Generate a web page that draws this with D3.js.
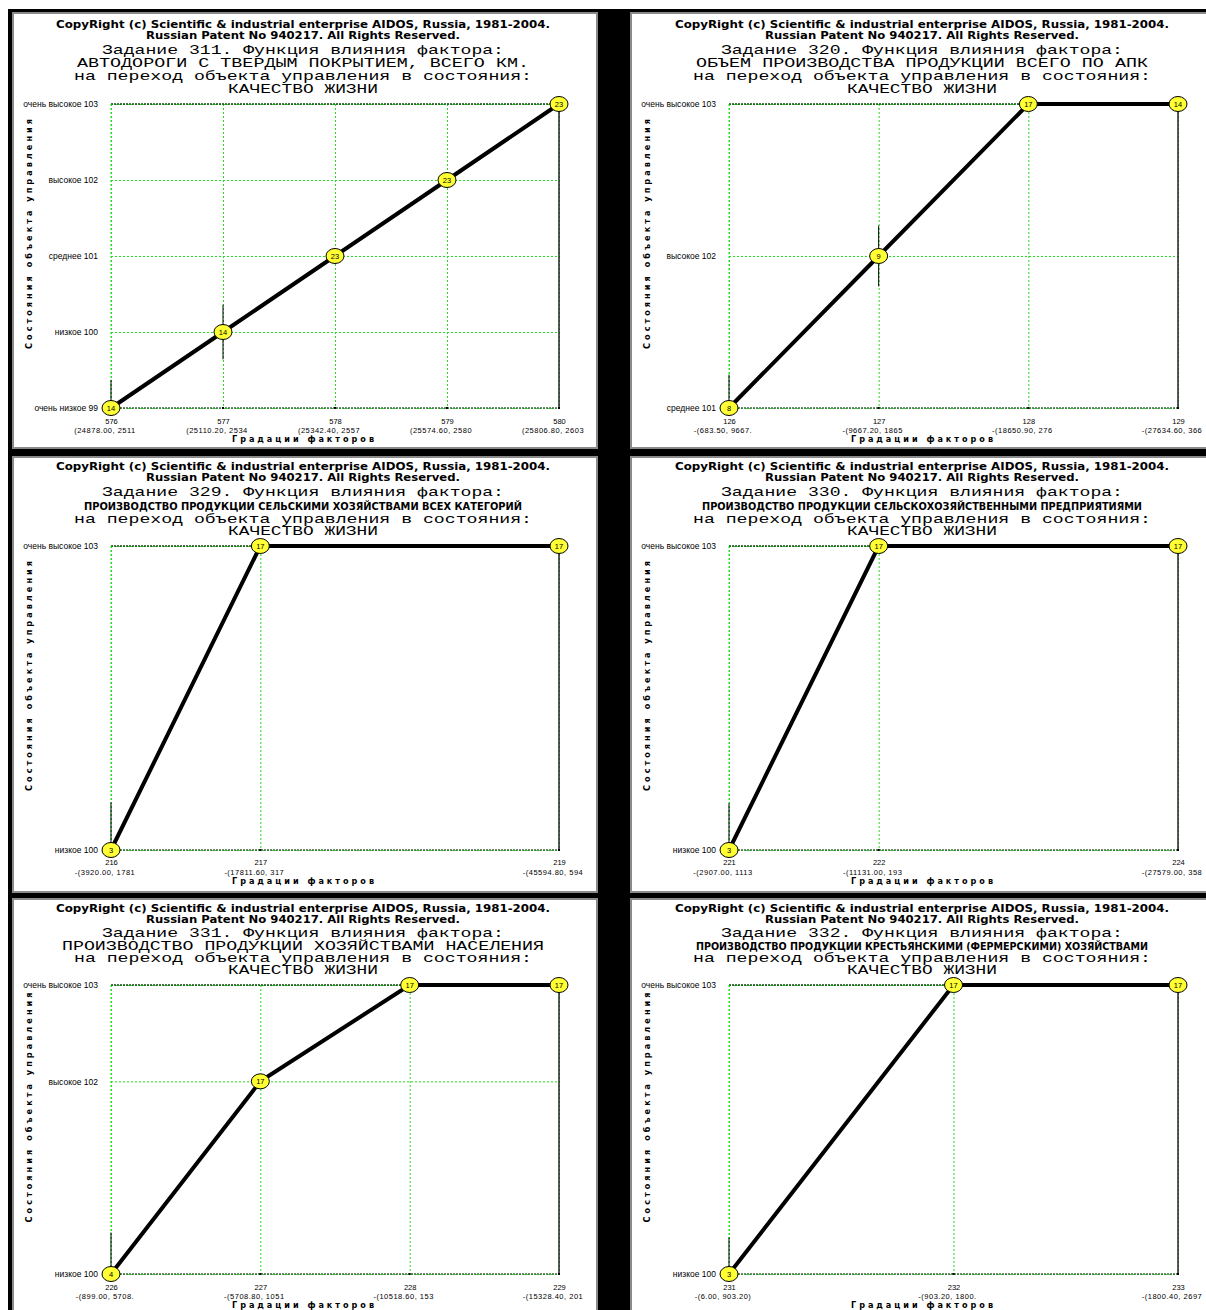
<!DOCTYPE html>
<html><head><meta charset="utf-8">
<script src="https://cdn.jsdelivr.net/npm/d3@7"></script>
<style>body{margin:0;background:#fff}svg{display:block}</style>
</head><body>
<script>
// ---------- DATA ----------
const taskNumbers = [311, 320, 329, 330, 331, 332];
const factorNames = [
  "АВТОДОРОГИ С ТВЕРДЫМ ПОКРЫТИЕМ, ВСЕГО КМ.",
  "ОБЪЕМ ПРОИЗВОДСТВА ПРОДУКЦИИ ВСЕГО ПО АПК",
  "ПРОИЗВОДСТВО ПРОДУКЦИИ СЕЛЬСКИМИ ХОЗЯЙСТВАМИ ВСЕХ КАТЕГОРИЙ",
  "ПРОИЗВОДСТВО ПРОДУКЦИИ СЕЛЬСКОХОЗЯЙСТВЕННЫМИ ПРЕДПРИЯТИЯМИ",
  "ПРОИЗВОДСТВО ПРОДУКЦИИ ХОЗЯЙСТВАМИ НАСЕЛЕНИЯ",
  "ПРОИЗВОДСТВО ПРОДУКЦИИ КРЕСТЬЯНСКИМИ (ФЕРМЕРСКИМИ) ХОЗЯЙСТВАМИ"
];
const stateName = "КАЧЕСТВО ЖИЗНИ";

const p1Cats = [576, 577, 578, 579, 580];
const p1Vals = [99, 100, 101, 102, 103];
const p1Counts = [14, 14, 23, 23, 23];
const p1Errs = [0.37, 0.36, 0, 0, 0];
const p1Ranges = ["(24878.00, 2511", "(25110.20, 2534", "(25342.40, 2557", "(25574.60, 2580", "(25806.80, 2603"];
const p1Levels = [99, 100, 101, 102, 103];
const p1LevelNames = ["очень низкое 99", "низкое 100", "среднее 101", "высокое 102", "очень высокое 103"];

const p2Cats = [126, 127, 128, 129];
const p2Vals = [101, 102, 103, 103];
const p2Counts = [8, 9, 17, 14];
const p2Errs = [0.22, 0.2, 0, 0];
const p2Ranges = ["-(683.50, 9667.", "-(9667.20, 1865", "-(18650.90, 276", "-(27634.60, 366"];
const p2Levels = [101, 102, 103];
const p2LevelNames = ["среднее 101", "высокое 102", "очень высокое 103"];

const p3Cats = [216, 217, 219];
const p3Vals = [100, 103, 103];
const p3Counts = [3, 17, 17];
const p3Errs = [0.47, 0, 0];
const p3Ranges = ["-(3920.00, 1781", "-(17811.60, 317", "-(45594.80, 594"];
const p3Levels = [100, 103];
const p3LevelNames = ["низкое 100", "очень высокое 103"];

const p4Cats = [221, 222, 224];
const p4Vals = [100, 103, 103];
const p4Counts = [3, 17, 17];
const p4Errs = [0.46, 0, 0];
const p4Ranges = ["-(2907.00, 1113", "-(11131.00, 193", "-(27579.00, 358"];
const p4Levels = [100, 103];
const p4LevelNames = ["низкое 100", "очень высокое 103"];

const p5Cats = [226, 227, 228, 229];
const p5Vals = [100, 102, 103, 103];
const p5Counts = [4, 17, 17, 17];
const p5Errs = [0.43, 0, 0, 0];
const p5Ranges = ["-(899.00, 5708.", "-(5708.80, 1051", "-(10518.60, 153", "-(15328.40, 201"];
const p5Levels = [100, 102, 103];
const p5LevelNames = ["низкое 100", "высокое 102", "очень высокое 103"];

const p6Cats = [231, 232, 233];
const p6Vals = [100, 103, 103];
const p6Counts = [3, 17, 17];
const p6Errs = [0.38, 0, 0];
const p6Ranges = ["-(6.00, 903.20)", "-(903.20, 1800.", "-(1800.40, 2697"];
const p6Levels = [100, 103];
const p6LevelNames = ["низкое 100", "очень высокое 103"];

const panels = [
  {cats: p1Cats, vals: p1Vals, counts: p1Counts, errs: p1Errs, ranges: p1Ranges, levels: p1Levels, names: p1LevelNames},
  {cats: p2Cats, vals: p2Vals, counts: p2Counts, errs: p2Errs, ranges: p2Ranges, levels: p2Levels, names: p2LevelNames},
  {cats: p3Cats, vals: p3Vals, counts: p3Counts, errs: p3Errs, ranges: p3Ranges, levels: p3Levels, names: p3LevelNames},
  {cats: p4Cats, vals: p4Vals, counts: p4Counts, errs: p4Errs, ranges: p4Ranges, levels: p4Levels, names: p4LevelNames},
  {cats: p5Cats, vals: p5Vals, counts: p5Counts, errs: p5Errs, ranges: p5Ranges, levels: p5Levels, names: p5LevelNames},
  {cats: p6Cats, vals: p6Vals, counts: p6Counts, errs: p6Errs, ranges: p6Ranges, levels: p6Levels, names: p6LevelNames}
];

// ---------- LAYOUT ----------
const W = 1206, H = 1310;
const colPanelLeft = [13, 631];
const panelW = 584;
const rowPanelTop = [13, 457, 899];
const rowPanelH = [435, 435, 430];
const rowPlotTop = [104, 546, 985];
const rowPlotBottom = [408, 850, 1274];
const rowTitleY = [[24, 35, 50, 63, 76, 89], [466, 477, 492, 506, 519, 531], [908, 919, 933, 946, 958, 970]];
const rowBottomOff = [[13, 22, 31], [12, 22, 31], [13, 22, 31]];
const factorWidths = [452, 452, 438, 440, 482, 452];
const factorCondensed = [false, false, true, true, false, true];

const svg = d3.select("body").append("svg").attr("width", W).attr("height", H);
svg.append("rect").attr("x", 8).attr("y", 9).attr("width", W - 8).attr("height", H - 9).attr("fill", "#000");

const monoFont = "'Liberation Mono', 'DejaVu Sans Mono', monospace";
const condFont = "'DejaVu Sans Condensed', 'Liberation Sans Narrow', 'DejaVu Sans', sans-serif";
const smallFont = "'Liberation Sans', Arial, sans-serif";

panels.forEach((p, i) => {
  const c = i % 2, r = Math.floor(i / 2);
  const g = svg.append("g");
  const px = colPanelLeft[c], py = rowPanelTop[r];
  g.append("rect").attr("x", px).attr("y", py).attr("width", panelW).attr("height", rowPanelH[r])
    .attr("fill", "#fff").attr("stroke", "#8a8a8a").attr("stroke-width", 2);

  const cx = 303 + 619 * c;
  const ty = rowTitleY[r];
  const txt = (s, y, font, size, weight, len) => {
    const t = g.append("text").attr("x", cx).attr("y", y).attr("text-anchor", "middle")
      .attr("dominant-baseline", "central").attr("font-family", font).attr("font-size", size)
      .attr("font-weight", weight).attr("fill", "#000").text(s);
    if (len) t.attr("textLength", len).attr("lengthAdjust", "spacingAndGlyphs");
    return t;
  };
  txt("CopyRight (c) Scientific & industrial enterprise AIDOS, Russia, 1981-2004.", ty[0], condFont, 11, "bold", 494);
  txt("Russian Patent No 940217. All Rights Reserved.", ty[1], condFont, 11, "bold", 314);
  txt("Задание " + taskNumbers[i] + ". Функция влияния фактора:", ty[2], monoFont, 13, "normal", 402);
  if (factorCondensed[i]) txt(factorNames[i], ty[3], condFont, 10.5, "bold", factorWidths[i]);
  else txt(factorNames[i], ty[3], monoFont, 13, "normal", factorWidths[i]);
  txt("на переход объекта управления в состояния:", ty[4], monoFont, 13, "normal", 458);
  txt(stateName, ty[5], monoFont, 13, "normal", 150);

  const left = 111 + 618 * c, right = 559 + 619 * c;
  const top = rowPlotTop[r], bottom = rowPlotBottom[r];
  const x = d3.scaleLinear().domain([p.cats[0], p.cats[p.cats.length - 1]]).range([left, right]);
  const y = d3.scaleLinear().domain([p.levels[0], p.levels[p.levels.length - 1]]).range([bottom, top]);

  // grid lines via axes
  const gx = g.append("g").attr("transform", `translate(0,${top})`)
    .call(d3.axisBottom(x).tickValues(p.cats).tickSize(bottom - top).tickFormat(""));
  gx.select(".domain").remove();
  gx.selectAll(".tick line").attr("stroke", "#22dd22").attr("stroke-dasharray", "2,2");
  const gy = g.append("g").attr("transform", `translate(${left},0)`)
    .call(d3.axisRight(y).tickValues(p.levels).tickSize(right - left).tickFormat(""));
  gy.select(".domain").remove();
  gy.selectAll(".tick line").attr("stroke", "#22dd22").attr("stroke-dasharray", "2,2");

  // frame
  g.append("line").attr("x1", left).attr("x2", right).attr("y1", top).attr("y2", top)
    .attr("stroke", "#0a4a0a").attr("stroke-width", 1.5).attr("stroke-dasharray", "2,1");
  g.append("line").attr("x1", left).attr("x2", right).attr("y1", bottom).attr("y2", bottom)
    .attr("stroke", "#3a6a3a").attr("stroke-width", 1.5).attr("stroke-dasharray", "2,1");
  g.append("line").attr("x1", left).attr("x2", left).attr("y1", top).attr("y2", bottom)
    .attr("stroke", "#22dd22").attr("stroke-dasharray", "2,2");
  g.append("line").attr("x1", right).attr("x2", right).attr("y1", top).attr("y2", bottom)
    .attr("stroke", "#222").attr("stroke-width", 1.5);
  g.selectAll(".tm").data(p.cats).enter().append("rect")
    .attr("x", d => x(d) - 1).attr("y", bottom - 1).attr("width", 2).attr("height", 2).attr("fill", "#000");

  // y level labels
  const ay = g.append("g").attr("transform", `translate(${left},0)`)
    .call(d3.axisLeft(y).tickValues(p.levels).tickSize(0).tickPadding(13)
      .tickFormat(d => p.names[p.levels.indexOf(d)]));
  ay.select(".domain").remove();
  ay.selectAll("text").attr("font-family", smallFont).attr("font-size", 8.5).attr("fill", "#000");

  // x tick numbers + range labels
  const bo = rowBottomOff[r];
  const ax = g.append("g").attr("transform", `translate(0,${bottom})`)
    .call(d3.axisBottom(x).tickValues(p.cats).tickSize(0).tickPadding(0).tickFormat(d3.format("d")));
  ax.select(".domain").remove();
  ax.selectAll("text").attr("y", bo[0]).attr("dy", null).attr("dominant-baseline", "central")
    .attr("font-family", smallFont).attr("font-size", 7.5).attr("fill", "#000");
  g.selectAll(".rl").data(p.cats).enter().append("text")
    .attr("x", d => x(d) - 6).attr("y", bottom + bo[1]).attr("text-anchor", "middle")
    .attr("dominant-baseline", "central").attr("font-family", smallFont).attr("font-size", 7.5)
    .attr("letter-spacing", 0.5).attr("fill", "#000").text((d, k) => p.ranges[k]);

  // axis titles
  g.append("text").attr("x", cx).attr("y", bottom + bo[2]).attr("text-anchor", "middle")
    .attr("dominant-baseline", "central").attr("font-family", condFont).attr("font-size", 9)
    .attr("font-weight", "bold").attr("textLength", 142).attr("lengthAdjust", "spacing")
    .text("Градации факторов");
  const yc = (top + bottom) / 2 - 22, xc = 29 + 618 * c;
  g.append("text").attr("transform", `translate(${xc},${yc}) rotate(-90)`).attr("text-anchor", "middle")
    .attr("dominant-baseline", "central").attr("font-family", condFont).attr("font-size", 9)
    .attr("font-weight", "bold").attr("textLength", 230).attr("lengthAdjust", "spacing")
    .text("Состояния объекта управления");

  // data
  const pts = p.cats.map((d, k) => ({c: d, v: p.vals[k], n: p.counts[k], e: p.errs[k]}));
  const lo = p.levels[0], hi = p.levels[p.levels.length - 1];
  g.selectAll(".eb").data(pts.filter(d => d.e > 0)).enter().append("line")
    .attr("x1", d => x(d.c)).attr("x2", d => x(d.c))
    .attr("y1", d => y(Math.max(lo, d.v - d.e))).attr("y2", d => y(Math.min(hi, d.v + d.e)))
    .attr("stroke", "#000").attr("stroke-width", 1);
  g.append("path").datum(pts).attr("fill", "none").attr("stroke", "#000").attr("stroke-width", 4)
    .attr("d", d3.line().x(d => x(d.c)).y(d => y(d.v)));
  const mk = g.selectAll(".mk").data(pts).enter().append("g")
    .attr("transform", d => `translate(${x(d.c)},${y(d.v)})`);
  mk.append("ellipse").attr("rx", 9).attr("ry", 7.5).attr("fill", "#ffff33").attr("stroke", "#000").attr("stroke-width", 1);
  mk.append("text").attr("text-anchor", "middle").attr("dominant-baseline", "central")
    .attr("font-family", smallFont).attr("font-size", 7.5).attr("fill", "#000").text(d => d.n);
});
</script>
</body></html>
